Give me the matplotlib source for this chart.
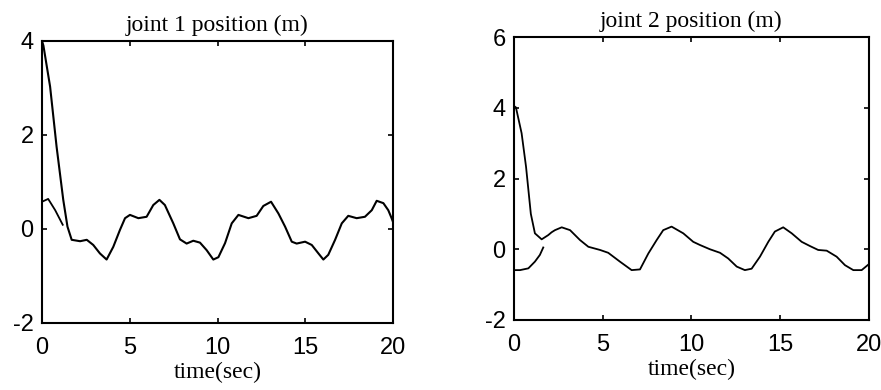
#!/usr/bin/env python3
"""
joint 1 / joint 2 position tracking (MATLAB-style two-panel figure)
"""

import matplotlib
matplotlib.use("Agg")
import matplotlib.pyplot as plt

# ---- joint 1 ----
# 初始段：实际轨迹（从 4 m 开始）和期望轨迹
t1_actual_start = [0, 0.08, 0.46, 0.83, 1.21, 1.45]
j1_actual_start = [4.0, 3.9, 3.03, 1.75, 0.62, 0.05]
t1_desired_start = [0, 0.35, 0.75, 1.18]
j1_desired_start = [0.58, 0.64, 0.40, 0.09]
# 跟踪段：两条曲线重合
t1_track = [1.69, 2.17, 2.55, 2.92, 3.3, 3.68, 4.06, 4.44, 4.73, 5.01,
            5.49, 5.96, 6.34, 6.69, 7.0, 7.48, 7.86, 8.24, 8.62, 9.0,
            9.38, 9.76, 10.05, 10.43, 10.81, 11.19, 11.76, 12.23, 12.61, 13.05,
            13.47, 13.85, 14.23, 14.51, 14.99, 15.37, 15.75, 16.03, 16.31, 16.7,
            17.08, 17.45, 17.93, 18.4, 18.79, 19.07, 19.45, 19.73, 19.92, 20.0]
j1_track = [-0.23, -0.26, -0.23, -0.34, -0.52, -0.65, -0.38, -0.02, 0.23, 0.30,
            0.23, 0.26, 0.51, 0.62, 0.51, 0.12, -0.22, -0.31, -0.25, -0.29,
            -0.45, -0.65, -0.6, -0.3, 0.12, 0.30, 0.23, 0.28, 0.49, 0.58,
            0.33, 0.05, -0.27, -0.31, -0.27, -0.34, -0.52, -0.65, -0.55, -0.23,
            0.12, 0.28, 0.23, 0.26, 0.40, 0.60, 0.55, 0.40, 0.23, 0.15]

# ---- joint 2 ----
t2_actual_start = [0, 0.11, 0.43, 0.68, 0.95, 1.18, 1.56, 1.93]
j2_actual_start = [4.05, 4.01, 3.28, 2.33, 1.0, 0.45, 0.28, 0.40]
t2_desired_start = [0, 0.34, 0.81, 1.18, 1.46, 1.65]
j2_desired_start = [-0.59, -0.59, -0.54, -0.35, -0.16, 0.05]
t2_track = [2.12, 2.31, 2.69, 3.16, 3.72, 4.19, 4.85, 5.31, 5.97, 6.63,
            7.1, 7.57, 8.04, 8.41, 8.88, 9.54, 10.1, 10.48, 11.04, 11.61,
            12.07, 12.55, 13.01, 13.39, 13.86, 14.33, 14.7, 15.17, 15.65, 16.21,
            16.68, 17.14, 17.62, 18.18, 18.65, 19.12, 19.59, 20.0]
j2_track = [0.48, 0.54, 0.62, 0.54, 0.26, 0.07, -0.02, -0.1, -0.35, -0.59,
            -0.57, -0.12, 0.26, 0.54, 0.64, 0.45, 0.21, 0.12, 0.0, -0.1,
            -0.26, -0.49, -0.59, -0.55, -0.21, 0.21, 0.5, 0.62, 0.45, 0.21,
            0.09, -0.02, -0.04, -0.21, -0.45, -0.59, -0.59, -0.42]

TICK_FONT = ['Liberation Sans', 'DejaVu Sans']
TEXT_FONT = ['Liberation Serif', 'DejaVu Serif']

plt.rcParams['axes.unicode_minus'] = False


def style_axes(ax, title, ylim, yticks):
    """MATLAB 风格的坐标轴"""
    ax.set_xlim(0, 20)
    ax.set_ylim(*ylim)
    ax.set_xticks([0, 5, 10, 15, 20])
    ax.set_yticks(yticks)
    ax.tick_params(direction='in', length=3.5, width=1.2,
                   top=True, right=True, labelsize=17)
    ax.tick_params(axis='x', pad=10)
    ax.tick_params(axis='y', pad=6)
    for lab in ax.get_xticklabels() + ax.get_yticklabels():
        lab.set_family(TICK_FONT)
    for sp in ax.spines.values():
        sp.set_linewidth(1.5)
    ax.set_title(title, family=TEXT_FONT, fontsize=17, pad=7)
    ax.set_xlabel('time(sec)', family=TEXT_FONT, fontsize=17, labelpad=2)


fig = plt.figure(figsize=(8.81, 3.90), dpi=100)

ax1 = fig.add_axes([0.0477, 0.1718, 0.3984, 0.7231])
ax1.plot(t1_actual_start + t1_track, j1_actual_start + j1_track,
         color='black', lw=1.5)
ax1.plot(t1_desired_start, j1_desired_start, color='black', lw=1.3)
style_axes(ax1, 'joint 1 position (m)', (-2, 4), [-2, 0, 2, 4])

ax2 = fig.add_axes([0.5834, 0.1795, 0.4029, 0.7256])
ax2.plot(t2_actual_start + t2_track, j2_actual_start + j2_track,
         color='black', lw=1.3)
ax2.plot(t2_desired_start, j2_desired_start, color='black', lw=1.3)
style_axes(ax2, 'joint 2 position (m)', (-2, 6), [-2, 0, 2, 4, 6])

fig.savefig('out.png', dpi=100)
